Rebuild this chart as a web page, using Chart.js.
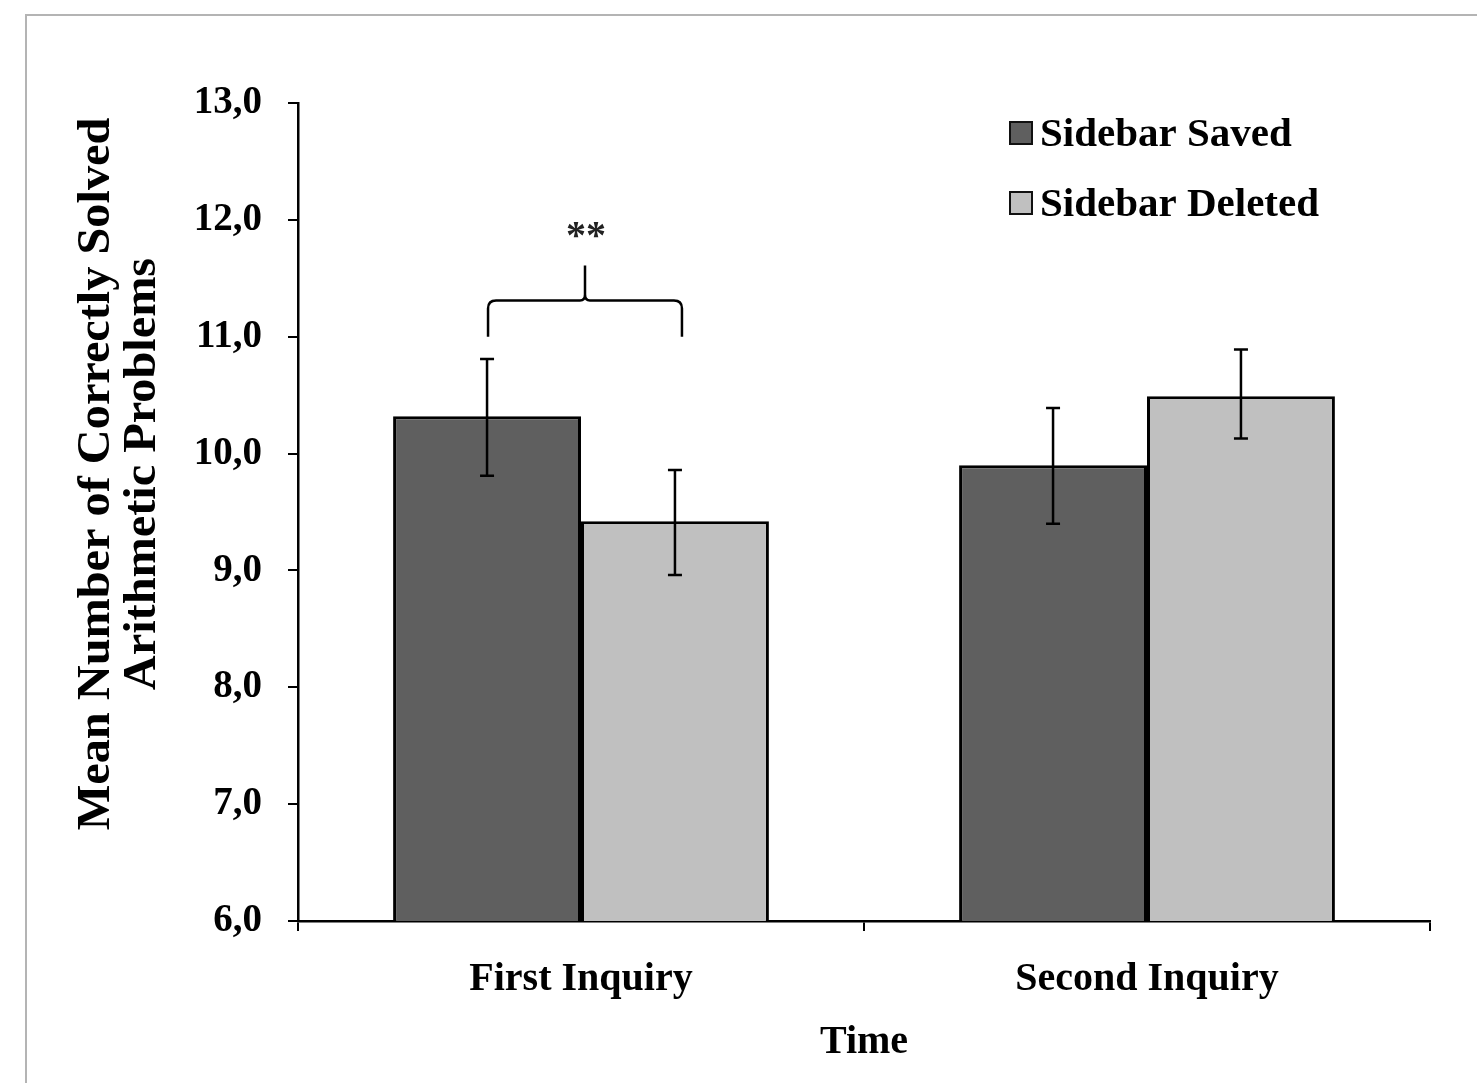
<!DOCTYPE html>
<html>
<head>
<meta charset="utf-8">
<script src="https://cdn.jsdelivr.net/npm/chart.js@4.4.1/dist/chart.umd.min.js"></script>
<style>
    html, body { margin: 0; padding: 0; background: #fff; }
    #wrap { position: relative; width: 1477px; height: 1083px; }
    #frame { position: absolute; left: 25px; top: 14px; right: 0; bottom: 0;
             border-top: 2px solid #b4b4b4; border-left: 2px solid #b4b4b4; }
    canvas { position: absolute; left: 0; top: 0; }
</style>
</head>
<body>
<div id="wrap">
    <div id="frame"></div>
    <canvas id="myChart" width="1477" height="1083"></canvas>
</div>
<script>
const categories = ['First Inquiry', 'Second Inquiry'];
const seriesNames = ['Sidebar Saved', 'Sidebar Deleted'];
const savedMeans = [10.32, 9.90];
const deletedMeans = [9.42, 10.49];
const savedErrLow = [9.81, 9.40];
const savedErrHigh = [10.81, 10.39];
const deletedErrLow = [8.96, 10.13];
const deletedErrHigh = [9.86, 10.89];
const yTicks = [6, 7, 8, 9, 10, 11, 12, 13];

// significance bracket between the two First Inquiry bars (axis units)
const bracket = { category: 0, legBottom: 11.0, bar: 11.31, stemTop: 11.61, label: '**', labelAt: 11.93 };

const serif = '"Liberation Serif", "Times New Roman", serif';
const colors = ['#5f5f5f', '#c0c0c0'];

const errorBars = {
    id: 'errorBars',
    afterDatasetsDraw(chart) {
        const ctx = chart.ctx;
        const y = chart.scales.y;
        const lows = [savedErrLow, deletedErrLow];
        const highs = [savedErrHigh, deletedErrHigh];
        ctx.save();
        ctx.strokeStyle = '#000';
        ctx.lineWidth = 2.5;
        chart.data.datasets.forEach((ds, i) => {
            chart.getDatasetMeta(i).data.forEach((bar, j) => {
                const x = bar.x;
                const top = y.getPixelForValue(highs[i][j]);
                const bot = y.getPixelForValue(lows[i][j]);
                ctx.beginPath();
                ctx.moveTo(x, top); ctx.lineTo(x, bot);
                ctx.moveTo(x - 7, top); ctx.lineTo(x + 7, top);
                ctx.moveTo(x - 7, bot); ctx.lineTo(x + 7, bot);
                ctx.stroke();
            });
        });

        // bracket, right leg sits a little right of the bar centre like the original
        const x1 = chart.getDatasetMeta(0).data[bracket.category].x + 1;
        const x2 = chart.getDatasetMeta(1).data[bracket.category].x + 7;
        const xm = (x1 + x2) / 2;
        const yb = y.getPixelForValue(bracket.legBottom);
        const yh = y.getPixelForValue(bracket.bar);
        const ys = y.getPixelForValue(bracket.stemTop);
        const r = 8;
        ctx.beginPath();
        ctx.moveTo(x1, yb);
        ctx.lineTo(x1, yh + r);
        ctx.quadraticCurveTo(x1, yh, x1 + r, yh);
        ctx.lineTo(xm - 5, yh);
        ctx.quadraticCurveTo(xm, yh, xm, yh - 6);
        ctx.lineTo(xm, ys);
        ctx.moveTo(xm, yh - 6);
        ctx.quadraticCurveTo(xm, yh, xm + 5, yh);
        ctx.lineTo(x2 - r, yh);
        ctx.quadraticCurveTo(x2, yh, x2, yh + r);
        ctx.lineTo(x2, yb);
        ctx.stroke();
        ctx.fillStyle = '#222';
        ctx.font = 'bold 40px ' + serif;
        ctx.textAlign = 'center';
        ctx.textBaseline = 'middle';
        ctx.fillText(bracket.label, xm + 1, y.getPixelForValue(bracket.labelAt) + 10);
        ctx.restore();
    }
};

const extras = {
    id: 'extras',
    afterDraw(chart) {
        const ctx = chart.ctx;
        const area = chart.chartArea;
        ctx.save();
        ctx.fillStyle = '#000';
        ctx.textAlign = 'center';
        ctx.textBaseline = 'middle';

        // y axis title, two lines, a bit stretched along its length
        ctx.save();
        ctx.translate(97, 474);
        ctx.rotate(-Math.PI / 2);
        ctx.scale(1.05, 1);
        ctx.font = 'bold 46px ' + serif;
        ctx.fillText('Mean Number of Correctly Solved', 0, 0);
        ctx.fillText('Arithmetic Problems', 0, 46);
        ctx.restore();

        // x axis title
        ctx.font = 'bold 40px ' + serif;
        ctx.fillText('Time', (area.left + area.right) / 2, 1043);

        // legend
        ctx.textAlign = 'left';
        seriesNames.forEach((name, i) => {
            const cy = 133 + i * 70;
            ctx.fillStyle = colors[i];
            ctx.fillRect(1010, cy - 11, 22, 22);
            ctx.strokeStyle = '#111';
            ctx.lineWidth = 2;
            ctx.strokeRect(1010, cy - 11, 22, 22);
            ctx.fillStyle = '#000';
            ctx.font = 'bold 41px ' + serif;
            ctx.fillText(name, 1040, cy + 2);
        });
        ctx.restore();
    }
};

const ctx = document.getElementById('myChart').getContext('2d');
window.myChart = new Chart(ctx, {
    type: 'bar',
    data: {
        labels: categories,
        datasets: [{
            label: seriesNames[0],
            data: savedMeans,
            backgroundColor: colors[0],
            borderColor: '#000',
            borderWidth: 3,
            borderSkipped: false
        }, {
            label: seriesNames[1],
            data: deletedMeans,
            backgroundColor: colors[1],
            borderColor: '#000',
            borderWidth: 3,
            borderSkipped: false
        }]
    },
    options: {
        responsive: false,
        animation: false,
        categoryPercentage: 0.664,
        barPercentage: 1.0,
        layout: { padding: { top: 103, right: 47, left: 0, bottom: 0 } },
        plugins: {
            legend: { display: false },
            tooltip: { enabled: false }
        },
        scales: {
            x: {
                grid: { drawOnChartArea: false, drawTicks: true, tickLength: 10, offset: true, color: '#000', lineWidth: 2 },
                border: { color: '#000', width: 2.5 },
                ticks: { color: '#000', padding: 25, font: { family: serif, size: 40, weight: 'bold' } },
                afterFit(scale) { scale.height = 1083 - 921; }
            },
            y: {
                min: 6,
                max: 13,
                afterBuildTicks(scale) { scale.ticks = yTicks.map(v => ({ value: v })); },
                grid: { drawOnChartArea: false, drawTicks: true, tickLength: 10, color: '#000', lineWidth: 2 },
                border: { color: '#000', width: 2.5 },
                ticks: {
                    color: '#000',
                    padding: 26,
                    font: { family: serif, size: 39, weight: 'bold' },
                    callback: v => v.toFixed(1).replace('.', ',')
                },
                afterFit(scale) { scale.width = 298; }
            }
        }
    },
    plugins: [errorBars, extras]
});
</script>
</body>
</html>
